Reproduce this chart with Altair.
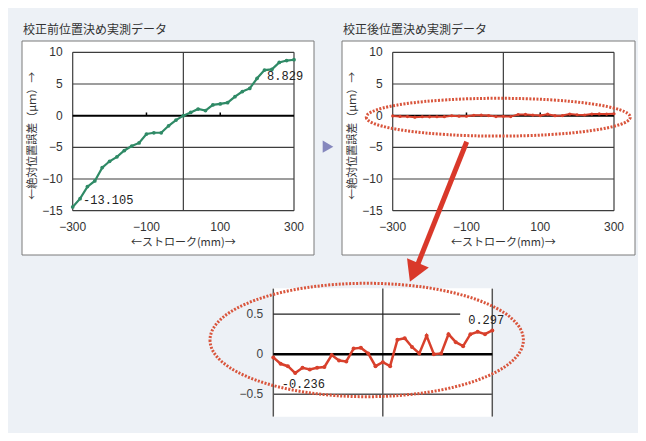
import altair as alt
import pandas as pd

# ---------------- data ----------------
stroke_mm = [-300, -280, -260, -240, -220, -200, -180, -160, -140, -120, -100,
             -80, -60, -40, -20, 0, 20, 40, 60, 80, 100,
             120, 140, 160, 180, 200, 220, 240, 260, 280, 300]
before_um = [-14.4, -13.1, -11.2, -10.3, -8.2, -7.2, -6.5, -5.5, -4.8, -4.3, -2.9,
             -2.7, -2.7, -1.6, -0.7, 0.0, 0.5, 1.05, 0.8, 1.7, 1.85,
             2.05, 3.0, 3.8, 4.3, 5.9, 7.2, 7.3, 8.4, 8.7, 8.829]
after_um = [-0.04, -0.12, -0.15, -0.236, -0.17, -0.19, -0.17, -0.16, -0.01, -0.08, -0.09,
            0.07, 0.08, 0.01, -0.15, -0.10, -0.15, 0.18, 0.20, 0.09, 0.01,
            0.23, 0.0, 0.01, 0.25, 0.15, 0.10, 0.25, 0.28, 0.25, 0.297]

main_y_ticks = [10, 5, 0, -5, -10, -15]
main_x_ticks = [-300, -100, 100, 300]
main_v_lines = [-300, 0, 300]
minor_ticks = [-100, 100]
zoom_y_ticks = [0.5, 0, -0.5]

titles = ["校正前位置決め実測データ", "校正後位置決め実測データ"]
x_title = "←ストローク(mm)→"
y_title = "←絶対位置誤差（μｍ）→"
before_labels = [{"x": -272, "y": -13.3, "t": "-13.105"}, {"x": 227, "y": 6.2, "t": "8.829"}]
after_labels = [{"x": -277, "y": -0.37, "t": "-0.236"}, {"x": 234, "y": 0.43, "t": "0.297"}]

# ---------------- styling ----------------
W, H = 630, 425
BG = "#edf1f6"
GREEN = "#2f8a66"
RED = "#d8402c"
GRID = "#3d3d3d"
JP = "Noto Sans CJK JP"
SANS = "Liberation Sans"
MONO = "Liberation Mono"

df = pd.DataFrame({"stroke": stroke_mm, "before": before_um, "after": after_um})
one = pd.DataFrame({"k": [0]})


def sc(domain, rng):
    return alt.Scale(domain=domain, range=rng, nice=False, zero=False)


def xd(v, s):
    return alt.XDatum(v, type="quantitative", scale=s, axis=None)


def yd(v, s):
    return alt.YDatum(v, type="quantitative", scale=s, axis=None)


def hrules(values, xs, ys, color, sw, x0=-300, x1=300):
    return alt.Chart(pd.DataFrame({"v": values})).mark_rule(color=color, strokeWidth=sw).encode(
        y=alt.Y("v:Q", scale=ys, axis=None), x=xd(x0, xs), x2=alt.X2Datum(x1))


def vrules(values, xs, ys, color, sw, y0, y1):
    return alt.Chart(pd.DataFrame({"v": values})).mark_rule(color=color, strokeWidth=sw).encode(
        x=alt.X("v:Q", scale=xs, axis=None), y=yd(y0, ys), y2=alt.Y2Datum(y1))


def series(xs, ys, col, color, sw, psize):
    line = alt.Chart(df).mark_line(color=color, strokeWidth=sw).encode(
        x=alt.X("stroke:Q", scale=xs, axis=None), y=alt.Y(f"{col}:Q", scale=ys, axis=None))
    pts = alt.Chart(df).mark_point(color=color, filled=True, size=psize, opacity=1).encode(
        x=alt.X("stroke:Q", scale=xs, axis=None), y=alt.Y(f"{col}:Q", scale=ys, axis=None))
    return [line, pts]


def deco_text(text, x, y, size=12, font=JP, angle=0, align="left", color="#333"):
    return alt.Chart(one).mark_text(text=text, font=font, fontSize=size, angle=angle,
                                    align=align, baseline="middle", color=color).encode(
        x=alt.value(x), y=alt.value(y))


def main_panel(left, col, color, sw, psize):
    xs = sc([-300, 300], [left, left + 221.3])
    ys = sc([-15, 10], [202.7, 44.3])
    L = []
    L.append(hrules([v for v in main_y_ticks if v != 0], xs, ys, GRID, 1.2))
    L.append(vrules(main_v_lines, xs, ys, GRID, 1.2, 10, -15))
    L.append(hrules([0], xs, ys, "#000", 2))
    L.append(vrules(minor_ticks, xs, ys, "#000", 1.5, 0, 0.5))
    L.append(alt.Chart(pd.DataFrame({"v": main_y_ticks})).mark_text(
        font=SANS, fontSize=12, align="right", baseline="middle", dx=-10, color="#333").encode(
        y=alt.Y("v:Q", scale=ys, axis=None), x=xd(-300, xs), text="v:Q"))
    L.append(alt.Chart(pd.DataFrame({"v": main_x_ticks})).mark_text(
        font=SANS, fontSize=12, align="center", baseline="middle", dy=16, color="#333").encode(
        x=alt.X("v:Q", scale=xs, axis=None), y=yd(-15, ys), text="v:Q"))
    L += series(xs, ys, col, color, sw, psize)
    return L, xs, ys


layers = []
# panel frames
for x0, x1 in [(14, 306), (334, 627)]:
    layers.append(alt.Chart(one).mark_rect(fill="white", stroke="#7a7a7a", strokeWidth=1).encode(
        x=alt.value(x0), x2=alt.value(x1), y=alt.value(33), y2=alt.value(247)))
# zoom panel white area
layers.append(alt.Chart(one).mark_rect(fill="white").encode(
    x=alt.value(263.7), x2=alt.value(485.3), y=alt.value(280.3), y2=alt.value(408.7)))

# panel 1: before calibration
p1, xs1, ys1 = main_panel(64.7, "before", GREEN, 2.2, 14)
layers += p1
layers.append(alt.Chart(pd.DataFrame(before_labels)).mark_text(
    font=MONO, fontSize=12, align="left", baseline="middle", color="#222").encode(
    x=alt.X("x:Q", scale=xs1, axis=None), y=alt.Y("y:Q", scale=ys1, axis=None), text="t:N"))

# panel 2: after calibration
p2, xs2, ys2 = main_panel(384.7, "after", RED, 2, 10)
layers += p2

# zoom panel
xs3 = sc([-300, 300], [265.3, 484.3])
ys3 = sc([-0.5, 0.5], [386.2, 306.2])
layers.append(vrules(main_v_lines, xs3, ys3, "#555", 1.5, 0.82, -0.78))
layers.append(hrules([0.5], xs3, ys3, "#222", 1.3, -300, 212))
layers.append(hrules([-0.5], xs3, ys3, "#555", 1.5))
layers.append(hrules([0], xs3, ys3, "#000", 2.5))
layers.append(vrules([100], xs3, ys3, "#000", 1.5, 0, 0.03))
layers.append(alt.Chart(pd.DataFrame({"v": zoom_y_ticks})).mark_text(
    font=SANS, fontSize=12, align="right", baseline="middle", dx=-10, color="#444").encode(
    y=alt.Y("v:Q", scale=ys3, axis=None), x=xd(-300, xs3), text="v:Q"))
layers += series(xs3, ys3, "after", RED, 2.5, 16)
layers.append(alt.Chart(pd.DataFrame(after_labels)).mark_text(
    font=MONO, fontSize=12, align="left", baseline="middle", color="#222").encode(
    x=alt.X("x:Q", scale=xs3, axis=None), y=alt.Y("y:Q", scale=ys3, axis=None), text="t:N"))

# titles and axis titles
layers.append(deco_text(titles[0], 15, 22))
layers.append(deco_text(titles[1], 335, 22))
layers.append(deco_text(x_title, 175.3, 235, size=11, align="center"))
layers.append(deco_text(x_title, 495.3, 235, size=11, align="center"))
layers.append(deco_text(y_title, 25, 127.8, size=11, angle=270, align="center"))
layers.append(deco_text(y_title, 345, 127.8, size=11, angle=270, align="center"))

# dotted ellipses
def ellipse(cx, cy, rx, ry):
    k = ry / rx
    path = f"M-1,0A1,{k:.4f},0,1,0,1,0A1,{k:.4f},0,1,0,-1,0Z"
    return alt.Chart(one).mark_point(shape=path, size=(2 * rx) ** 2, filled=False, opacity=1,
                                     stroke="#d9553c", strokeWidth=3, strokeDash=[2, 1.5]).encode(
        x=alt.value(cx), y=alt.value(cy))


layers.append(ellipse(490.3, 109.2, 132, 18.9))
layers.append(ellipse(358.7, 332, 156.7, 56.7))

# big red arrow
layers.append(alt.Chart(one).mark_rule(color="#d9382a", strokeWidth=5).encode(
    x=alt.value(458.7), y=alt.value(133.7), x2=alt.value(407.5), y2=alt.value(262)))
layers.append(alt.Chart(one).mark_point(shape="triangle-down", angle=23, size=560, filled=True,
                                        color="#d9382a", opacity=1).encode(
    x=alt.value(405.9), y=alt.value(264.4)))

# small triangle between panels
layers.append(alt.Chart(one).mark_point(shape="triangle-right", size=150, filled=True,
                                        color="#8587bd", opacity=1).encode(
    x=alt.value(320), y=alt.value(138.7)))

chart = alt.layer(*layers).resolve_scale(x="independent", y="independent").properties(
    width=W, height=H, autosize=alt.AutoSizeParams(type="none"), padding=0, background=BG
).configure_view(stroke=None)

chart.save("out.html", embed_options={"renderer": "svg", "actions": False})
